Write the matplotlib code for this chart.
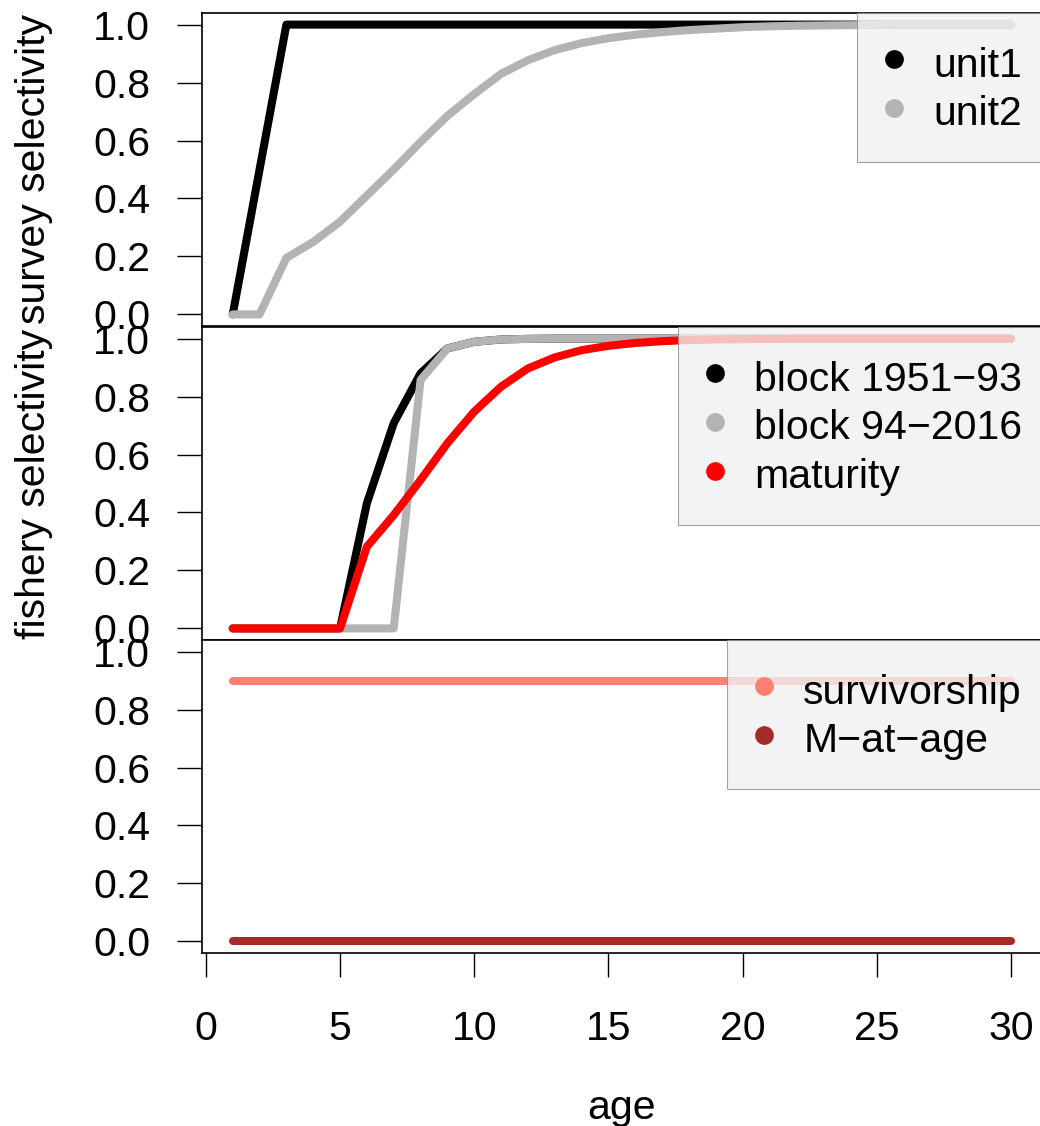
import numpy as np
import matplotlib
matplotlib.use('Agg')
import matplotlib.pyplot as plt
from matplotlib.lines import Line2D

plt.rcParams['font.family'] = ['Liberation Sans', 'DejaVu Sans']
plt.rcParams['font.size'] = 29.5

ages = np.arange(1, 31)

# survey selectivity by unit
unit1 = [0.0, 0.5, 1.0, 1.0, 1.0, 1.0, 1.0, 1.0, 1.0, 1.0,
         1.0, 1.0, 1.0, 1.0, 1.0, 1.0, 1.0, 1.0, 1.0, 1.0,
         1.0, 1.0, 1.0, 1.0, 1.0, 1.0, 1.0, 1.0, 1.0, 1.0]
unit2 = [0.0, 0.0, 0.195, 0.25, 0.32, 0.41, 0.50, 0.595, 0.685, 0.76,
         0.83, 0.877, 0.912, 0.936, 0.953, 0.965, 0.974, 0.981, 0.986, 0.991,
         0.994, 0.996, 0.997, 0.998, 0.999, 1.0, 1.0, 1.0, 1.0, 1.0]

# fishery selectivity by time block, plus maturity
block_1951_93 = [0.0, 0.0, 0.0, 0.0, 0.0, 0.432, 0.708, 0.88, 0.966, 0.989,
                 0.997, 0.999, 1.0, 1.0, 1.0, 1.0, 1.0, 1.0, 1.0, 1.0,
                 1.0, 1.0, 1.0, 1.0, 1.0, 1.0, 1.0, 1.0, 1.0, 1.0]
block_94_2016 = [0.0, 0.0, 0.0, 0.0, 0.0, 0.0, 0.0, 0.857, 0.966, 0.989,
                 0.997, 0.999, 1.0, 1.0, 1.0, 1.0, 1.0, 1.0, 1.0, 1.0,
                 1.0, 1.0, 1.0, 1.0, 1.0, 1.0, 1.0, 1.0, 1.0, 1.0]
maturity = [0.0, 0.0, 0.0, 0.0, 0.0, 0.282, 0.391, 0.512, 0.639, 0.748,
            0.834, 0.897, 0.935, 0.96, 0.975, 0.985, 0.991, 0.995, 0.997, 0.998,
            0.999, 1.0, 1.0, 1.0, 1.0, 1.0, 1.0, 1.0, 1.0, 1.0]

# natural mortality
survivorship = [0.9] * 30
m_at_age = [0.0] * 30

panels = [
    ('survey selectivity', [('unit1', unit1, 'black'), ('unit2', unit2, '#B3B3B3')]),
    ('fishery selectivity', [('block 1951\u221293', block_1951_93, 'black'),
                             ('block 94\u22122016', block_94_2016, '#B3B3B3'),
                             ('maturity', maturity, 'red')]),
    (None, [('survivorship', survivorship, 'salmon'), ('M\u2212at\u2212age', m_at_age, 'brown')]),
]

W, H = 1040, 1126
fig = plt.figure(figsize=(W / 100, H / 100), dpi=100)

left, right = 201.6, 1042
tops = [13, 327, 640]
panel_h = 313

for i, (ylab, series) in enumerate(panels):
    top = tops[i]
    ax = fig.add_axes([left / W, 1 - (top + panel_h) / H, (right - left) / W, panel_h / H])
    handles = []
    for name, vals, col in series:
        ax.plot(ages, vals, color=col, lw=5.8, solid_capstyle='round', solid_joinstyle='round')
        handles.append(Line2D([], [], marker='o', linestyle='None', markersize=13.5,
                              markeredgewidth=0, color=col, label=name))
    ax.set_xlim(-0.16, 31.16)
    ax.set_ylim(-0.04, 1.04)
    ax.set_yticks([0, 0.2, 0.4, 0.6, 0.8, 1.0])
    ax.set_yticklabels(['0.0', '0.2', '0.4', '0.6', '0.8', '1.0'])
    ax.tick_params(axis='y', length=18, width=1.0, pad=19)
    for sp in ax.spines.values():
        sp.set_linewidth(1.2)
    if i < 2:
        ax.set_xticks([])
    else:
        ax.set_xticks([0, 5, 10, 15, 20, 25, 30])
        ax.tick_params(axis='x', length=17, width=1.0, pad=24)

    # legend box runs off the right edge of the page
    leg = ax.legend(handles=handles, loc='upper right', bbox_to_anchor=(1.0103, 1),
                    borderaxespad=0, borderpad=0.70, handlelength=0.41,
                    handleheight=1.2, handletextpad=0.75, labelspacing=0.146,
                    fancybox=False, fontsize=29.5)
    frame = leg.get_frame()
    frame.set_facecolor((0.94, 0.94, 0.94, 0.55))
    frame.set_edgecolor((0.55, 0.55, 0.55, 0.55))
    frame.set_linewidth(0.8)

    if ylab:
        fig.text(34 / W, 1 - (top + panel_h / 2) / H, ylab, rotation=90,
                 ha='center', va='center')

fig.text((left + right) / 2 / W, 1 - 1119 / H, 'age', ha='center', va='baseline')

plt.savefig('out.png', dpi=100)
